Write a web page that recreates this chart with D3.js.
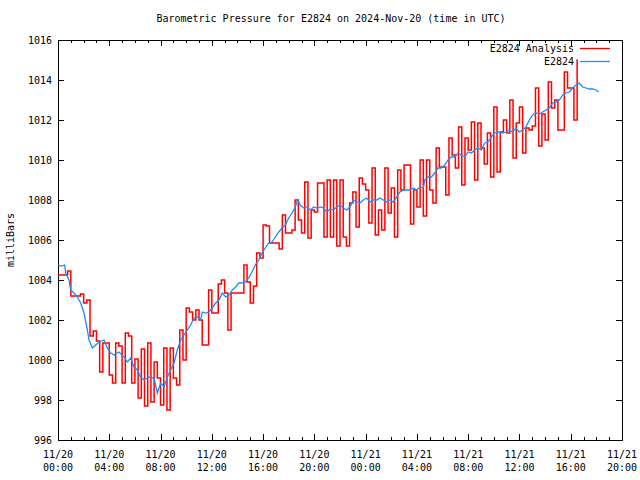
<!DOCTYPE html>
<html><head><meta charset="utf-8">
<script src="https://cdn.jsdelivr.net/npm/d3@7"></script>
<style>
html,body{margin:0;padding:0;background:#fff;}
text{font-family:"DejaVu Sans Mono",monospace;font-size:10px;fill:#000;}
</style></head>
<body><svg id="c" width="640" height="480"></svg>
<script>
// ---- data ----
const title = "Barometric Pressure for E2824 on 2024-Nov-20 (time in UTC)";
const yLabel = "milliBars";
const seriesNames = ["E2824 Analysis", "E2824"];
const startTime = "2024-11-20T00:00:00Z";
const endTime = "2024-11-21T20:00:00Z";
const yTicks = [996, 998, 1000, 1002, 1004, 1006, 1008, 1010, 1012, 1014, 1016];
const xTickHours = [0, 4, 8, 12, 16, 20, 24, 28, 32, 36, 40, 44];
// analysis (red): one value per 15 minutes from 11/20 00:00
const redStepMinutes = 15;
const redEndHour = 40.55;
const redValues = [
1004.25,1004.25,1004.25,1004.45,1003.2,1003.2,1003.2,1003.3,1002.85,1003.0,
1001.2,1001.45,1000.95,999.4,1000.85,1000.85,999.25,998.85,1000.85,1000.7,
998.85,1001.35,1001.2,998.85,1000.05,998.1,1000.55,997.7,1000.85,997.9,
999.9,999.1,997.75,1000.6,997.5,1000.6,999.1,998.75,1001.5,1000.0,
1002.6,1002.4,1002.0,1002.5,1002.0,1000.75,1000.75,1003.5,1002.35,1002.35,
1003.8,1004.0,1003.35,1001.5,1003.35,1003.35,1003.35,1003.35,1004.75,1003.9,
1002.85,1003.7,1005.35,1005.1,1006.75,1006.7,1005.85,1005.85,1005.85,1005.55,
1007.25,1006.35,1006.35,1006.5,1008.0,1007.0,1006.35,1008.9,1006.1,1007.5,
1007.4,1008.85,1008.85,1006.15,1009.0,1006.15,1009.0,1005.7,1009.0,1006.15,
1005.7,1007.85,1008.4,1006.65,1009.1,1008.8,1008.5,1006.85,1009.6,1006.25,
1007.5,1006.5,1009.6,1007.35,1008.6,1006.15,1009.5,1008.5,1009.75,1009.75,
1006.8,1008.5,1007.65,1010.0,1007.2,1010.0,1008.5,1007.85,1010.6,1009.65,
1009.65,1008.25,1011.1,1010.25,1009.6,1011.65,1008.75,1011.1,1010.5,1011.9,
1009.0,1011.85,1010.6,1009.8,1011.35,1009.15,1012.65,1009.4,1011.4,1012.0,
1011.35,1013.0,1010.1,1011.85,1012.65,1010.35,1011.6,1011.5,1011.7,1013.6,
1010.7,1012.3,1011.0,1013.9,1012.6,1013.0,1011.5,1011.5,1014.4,1013.6,
1013.6,1012.0,1015.0
];
// observation (blue): hours since 11/20 00:00 and values
const blueHours = [
0.00,0.26,0.52,0.60,0.86,0.99,1.25,1.51,1.77,2.03,2.29,2.42,2.68,2.94,3.20,3.59,3.85,4.11,4.37,4.76,
5.15,5.41,5.67,5.93,6.19,6.45,6.71,7.10,7.49,7.75,8.01,8.27,8.53,8.79,9.05,9.31,9.57,9.83,10.09,10.35,
10.61,10.87,11.13,11.26,11.52,11.78,12.04,12.30,12.56,12.82,13.08,13.34,13.60,13.86,14.10,14.35,14.61,14.88,15.13,15.39,
15.66,15.92,16.17,16.44,16.70,16.95,17.22,17.48,17.73,18.00,18.26,18.51,18.70,18.90,19.17,19.43,19.68,19.95,20.21,20.46,
20.73,20.96,21.22,21.48,21.74,22.00,22.26,22.52,22.78,23.04,23.30,23.56,23.82,24.08,24.34,24.60,24.86,25.12,25.38,25.64,
25.90,26.16,26.42,26.68,26.94,27.20,27.46,27.72,27.98,28.24,28.50,28.61,28.87,29.13,29.39,29.65,29.90,30.17,30.43,30.68,
30.95,31.21,31.46,31.73,31.99,32.25,32.51,32.77,33.02,33.29,33.55,33.80,34.07,34.33,34.43,34.69,34.95,35.21,35.47,35.73,
35.99,36.25,36.51,36.77,37.03,37.29,37.55,37.81,38.07,38.33,38.59,38.85,39.11,39.37,39.63,39.89,40.15,40.41,40.67,40.93,
41.19,41.45,41.71,41.97,42.18
];
const blueValues = [
1004.75,1004.7,1004.75,1004.35,1004.0,1003.5,1003.35,1003.15,1002.85,1002.35,1001.5,1001.0,1000.6,1000.75,1000.9,1001.0,1000.6,1000.35,1000.25,1000.4,
1000.15,999.9,1000.1,999.65,999.5,999.15,999.0,999.15,999.1,998.35,998.85,998.65,999.15,999.5,999.85,1000.5,1001.0,1001.25,1001.5,1001.75,
1002.1,1002.15,1002.0,1002.4,1002.35,1002.4,1002.6,1002.85,1003.0,1003.35,1003.15,1003.25,1003.5,1003.65,1003.85,1003.85,1003.9,1004.1,1004.4,1004.75,
1005.0,1005.35,1005.6,1005.85,1005.9,1006.15,1006.4,1006.6,1006.75,1007.1,1007.35,1007.65,1008.0,1007.75,1007.6,1007.65,1007.5,1007.65,1007.6,1007.65,
1007.6,1007.4,1007.55,1007.5,1007.65,1007.75,1007.6,1007.5,1007.65,1008.0,1007.9,1007.85,1008.0,1008.1,1007.9,1008.0,1008.0,1008.1,1008.0,1007.9,
1008.0,1007.9,1008.15,1008.4,1008.5,1008.5,1008.5,1008.6,1008.5,1008.65,1008.6,1009.0,1009.15,1009.15,1009.35,1009.6,1009.6,1009.75,1010.0,1010.15,
1010.15,1010.35,1010.25,1010.15,1010.4,1010.35,1010.5,1010.6,1010.5,1010.85,1010.9,1011.15,1011.35,1011.4,1011.4,1011.35,1011.4,1011.5,1011.4,1011.6,
1011.4,1011.5,1011.65,1012.0,1012.25,1012.35,1012.3,1012.4,1012.5,1012.6,1012.85,1012.9,1013.0,1013.25,1013.35,1013.4,1013.6,1013.75,1013.85,1013.65,
1013.6,1013.55,1013.55,1013.5,1013.4
];
const colors = ["#ff0000", "#1a8cff"];

// ---- chart ----
const svg = d3.select("#c");
const W = 640, H = 480;
const m = {left: 58, right: 18, top: 40, bottom: 40};
const t0 = new Date(startTime), t1 = new Date(endTime);
const HOUR = 3600 * 1000;
const x = d3.scaleUtc().domain([t0, t1]).range([m.left, W - m.right]);
const y = d3.scaleLinear().domain([996, 1016]).range([H - m.bottom, m.top]);

svg.append("rect").attr("width", W).attr("height", H).attr("fill", "#fff");

const fmtD = d3.utcFormat("%m/%d"), fmtT = d3.utcFormat("%H:%M");
const majorTicks = xTickHours.map(h => new Date(+t0 + h * HOUR));
const minorTicks = d3.range(0, 45, 1).map(h => new Date(+t0 + h * HOUR));

// axes with gnuplot-like inward ticks
const gx = svg.append("g").attr("transform", `translate(0,${H - m.bottom})`)
  .call(d3.axisBottom(x).tickValues(majorTicks).tickSize(-6).tickFormat(""));
const gxm = svg.append("g").attr("transform", `translate(0,${H - m.bottom})`)
  .call(d3.axisBottom(x).tickValues(minorTicks).tickSize(-3).tickFormat(""));
const gxt = svg.append("g").attr("transform", `translate(0,${m.top})`)
  .call(d3.axisTop(x).tickValues(majorTicks).tickSize(-6).tickFormat(""));
const gxtm = svg.append("g").attr("transform", `translate(0,${m.top})`)
  .call(d3.axisTop(x).tickValues(minorTicks).tickSize(-3).tickFormat(""));
const gy = svg.append("g").attr("transform", `translate(${m.left},0)`)
  .call(d3.axisLeft(y).tickValues(yTicks).tickSize(-6).tickFormat(d3.format("d")));
const gyr = svg.append("g").attr("transform", `translate(${W - m.right},0)`)
  .call(d3.axisRight(y).tickValues(yTicks).tickSize(-6).tickFormat(""));
[gx, gxm, gxt, gxtm, gy, gyr].forEach(g => {
  g.select(".domain").remove();
  g.selectAll("line").attr("stroke", "#000").attr("shape-rendering", "crispEdges");
});
gy.selectAll("text").attr("x", -6).attr("dy", "0.32em")
  .style("font-family", '"DejaVu Sans Mono",monospace').style("font-size", "10px");

// x tick labels two lines
const lab = svg.append("g");
majorTicks.forEach(d => {
  const t = lab.append("text").attr("x", x(d)).attr("y", H - m.bottom + 18).attr("text-anchor", "middle");
  t.append("tspan").attr("x", x(d)).text(fmtD(d));
  t.append("tspan").attr("x", x(d)).attr("dy", 13).text(fmtT(d));
});

// frame
svg.append("rect").attr("x", m.left + 0.5).attr("y", m.top + 0.5)
  .attr("width", W - m.left - m.right).attr("height", H - m.top - m.bottom)
  .attr("fill", "none").attr("stroke", "#000").attr("stroke-width", 1);

// series
const redPts = redValues.map((v, i) => ({t: new Date(+t0 + i * redStepMinutes * 60000), v}));
redPts.push({t: new Date(+t0 + redEndHour * HOUR), v: redValues[redValues.length - 1]});
const bluePts = blueHours.map((h, i) => ({t: new Date(+t0 + h * HOUR), v: blueValues[i]}));

const lineStep = d3.line().x(d => x(d.t)).y(d => y(d.v)).curve(d3.curveStepAfter);
const lineLin = d3.line().x(d => x(d.t)).y(d => y(d.v));
svg.append("path").datum(redPts).attr("d", lineStep).attr("fill", "none")
  .attr("stroke", colors[0]).attr("stroke-width", 1.5);
svg.append("path").datum(bluePts).attr("d", lineLin).attr("fill", "none")
  .attr("stroke", colors[1]).attr("stroke-width", 1.3);

// legend
const lg = svg.append("g");
seriesNames.forEach((n, i) => {
  const ly = 48.5 + i * 13;
  lg.append("text").attr("x", 574).attr("y", ly).attr("dy", "0.32em").attr("text-anchor", "end").text(n);
  lg.append("line").attr("x1", 580).attr("x2", 610).attr("y1", ly).attr("y2", ly)
    .attr("stroke", colors[i]).attr("stroke-width", 1.3);
});

// title and y label
svg.append("text").attr("x", 331).attr("y", 22).attr("text-anchor", "middle").text(title);
svg.append("text").attr("transform", `translate(14,${(m.top + H - m.bottom) / 2}) rotate(-90)`)
  .attr("text-anchor", "middle").text(yLabel);
</script></body></html>
